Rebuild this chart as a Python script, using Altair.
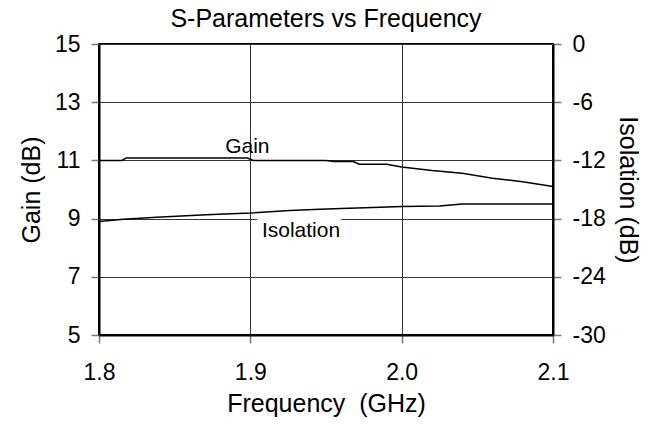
import altair as alt
import pandas as pd

# ---- data ----
freq_gain = [1.800, 1.815, 1.818, 1.898, 1.902, 1.950, 1.955, 1.968, 1.972, 1.990,
             2.000, 2.020, 2.040, 2.060, 2.080, 2.100]
gain_db = [11.00, 11.00, 11.08, 11.08, 11.00, 11.00, 10.96, 10.96, 10.87, 10.87,
           10.77, 10.65, 10.56, 10.39, 10.27, 10.10]

freq_iso = [1.800, 1.816, 1.838, 1.871, 1.900, 1.926, 1.946, 1.960, 1.986, 2.000,
            2.025, 2.040, 2.070, 2.100]
iso_db = [-18.30, -18.06, -17.85, -17.60, -17.43, -17.17, -17.03, -16.95, -16.82,
          -16.76, -16.69, -16.50, -16.50, -16.50]

x_ticks = [1.8, 1.9, 2.0, 2.1]
gain_ticks = [5, 7, 9, 11, 13, 15]
iso_ticks = [-30, -24, -18, -12, -6, 0]

label_text = ["Gain", "Isolation"]
label_freq = [1.898, 1.9335]
label_gain = [11.25, 8.38]

mask_freq = [1.9044, 1.9600]
mask_gain = [8.2, 9.1]

FONT = "Liberation Sans"

gain_df = pd.DataFrame({"f": freq_gain, "g": gain_db})
iso_df = pd.DataFrame({"f": freq_iso, "i": iso_db})
lab_df = pd.DataFrame({"f": label_freq, "g": label_gain, "t": label_text})
mask_df = pd.DataFrame({"f": [mask_freq[0]], "f2": [mask_freq[1]],
                        "g": [mask_gain[0]], "g2": [mask_gain[1]]})

xscale = alt.Scale(domain=[1.8, 2.1], nice=False, zero=False)
gscale = alt.Scale(domain=[5, 15], nice=False, zero=False)
iscale = alt.Scale(domain=[-30, 0], nice=False, zero=False)

xaxis = alt.Axis(values=x_ticks, format=".1f", title="Frequency\u00a0 (GHz)", grid=True,
                 labelPadding=18, titlePadding=7, labelFlush=False)
gaxis = alt.Axis(values=gain_ticks, title="Gain (dB)", orient="left", grid=True,
                 labelPadding=11, titlePadding=10, labelFlush=False)
iaxis = alt.Axis(values=iso_ticks, title="Isolation (dB)", orient="right", grid=False,
                 labelPadding=11, titlePadding=9, labelFlush=False,
                 labelExpr="'' + datum.value")

X = alt.X("f:Q", scale=xscale, axis=xaxis)
YG = alt.Y("g:Q", scale=gscale, axis=gaxis)

mask = alt.Chart(mask_df).mark_rect(color="white", opacity=1).encode(
    x=X, x2="f2:Q", y=YG, y2="g2:Q")
gain_line = alt.Chart(gain_df).mark_line(color="black", strokeWidth=1.5).encode(x=X, y=YG)
texts = alt.Chart(lab_df).mark_text(font=FONT, fontSize=21, baseline="alphabetic",
                                    align="center", color="black").encode(
    x=X, y=YG, text="t:N")
left = alt.layer(mask, gain_line, texts)

iso_line = alt.Chart(iso_df).mark_line(color="black", strokeWidth=1.5).encode(
    x=X, y=alt.Y("i:Q", scale=iscale, axis=iaxis))

chart = (
    alt.layer(left, iso_line)
    .resolve_scale(y="independent")
    .properties(
        width=454, height=291,
        autosize=alt.AutoSizeParams(type="none"),
        padding={"left": 91, "top": 36, "right": 88, "bottom": 83},
        title=alt.TitleParams("S-Parameters vs Frequency", font=FONT, fontSize=25,
                              fontWeight="normal", color="black", anchor="middle",
                              offset=1),
    )
    .configure_view(stroke="black", strokeWidth=2)
    .configure_axis(
        domainColor="black", domainWidth=2,
        tickColor="#777", tickSize=8, tickWidth=1.5,
        labelFont=FONT, labelFontSize=23, labelColor="black",
        titleFont=FONT, titleFontSize=25, titleFontWeight="normal", titleColor="black",
        gridColor="#333", gridWidth=1,
    )
)

chart.save("out.html", embed_options={"renderer": "svg", "actions": False})
